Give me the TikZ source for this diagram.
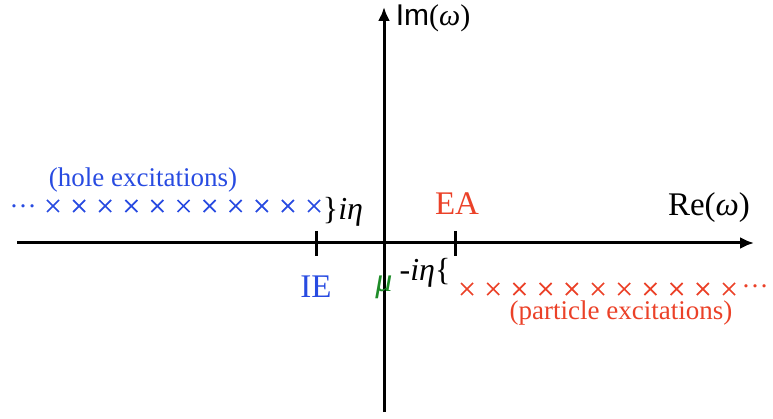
\documentclass[tikz,border=0pt]{standalone}
\usepackage{fontspec}
\setmainfont{Liberation Serif}
\newfontfamily\imsans{Liberation Sans}
\usetikzlibrary{arrows.meta,calc}
\definecolor{holeblue}{RGB}{40,75,225}
\definecolor{partred}{RGB}{235,65,40}
\definecolor{mugreen}{RGB}{30,140,40}
\tikzset{
  axis/.style={line width=3pt,-{Latex[length=14pt,width=12pt]}},
  tick/.style={line width=3pt},
  lbl/.style={inner sep=0pt,font=\fontsize{27}{30}\selectfont},
  mid/.style={inner sep=0pt,font=\fontsize{32}{34}\selectfont},
  big/.style={inner sep=0pt,font=\fontsize{33}{36}\selectfont},
  crossmark/.style={line width=1.7pt},
}
\newcommand{\xmark}[3]{%
  \coordinate (#3) at (#1,#2);
  \draw[crossmark] ($(#3)+(-6,-6)$) -- ($(#3)+(6,6)$)
                   ($(#3)+(-6,6)$) -- ($(#3)+(6,-6)$);}
\begin{document}
\begin{tikzpicture}[x=1pt,y=-1pt]
\useasboundingbox (0,0) rectangle (773,419);
% axes
\coordinate (xl) at (17,243);
\coordinate (xr) at (754,243);
\coordinate (yb) at (384,412);
\coordinate (yt) at (384,7);
\draw[axis] (xl) -- (xr);
\draw[axis] (yb) -- (yt);
% ticks
\coordinate (ie1) at (316,231);
\coordinate (ie2) at (316,256);
\coordinate (ea1) at (455,231);
\coordinate (ea2) at (455,256);
\draw[tick] (ie1) -- (ie2);
\draw[tick] (ea1) -- (ea2);
% axis labels
\node[inner sep=0pt,font=\fontsize{30}{32}\selectfont] (im) at (433,18) {{\imsans Im}(\textit{ω})};
\node[big] (re) at (709,208) {Re(\textit{ω})};
% hole side
\node[lbl,text=holeblue] (hole) at (143,180) {(hole excitations)};
\node[lbl,text=holeblue] (bdots) at (23,206) {…};
\begin{scope}[holeblue]
\foreach \k in {0,...,10} {
  \pgfmathsetmacro{\xx}{53+26.1*\k}
  \xmark{\xx}{206}{b\k}
}
\end{scope}
\node[mid] (ieta) at (343,212) {\}\textit{iη}};
\node[big,text=holeblue] (ie) at (316,287) {IE};
% particle side
\node[big,text=partred] (ea) at (457,204) {EA};
\node[inner sep=0pt,font=\fontsize{34}{36}\selectfont,text=mugreen] (mu) at (384,287) {\textit{μ}};
\node[mid] (mieta) at (425,273) {-\textit{iη}\{};
\begin{scope}[partred]
\foreach \k in {0,...,10} {
  \pgfmathsetmacro{\xx}{467+26.2*\k}
  \xmark{\xx}{289}{r\k}
}
\end{scope}
\node[lbl,text=partred] (rdots) at (755,286) {…};
\node[lbl,text=partred] (part) at (621,313) {(particle excitations)};
\end{tikzpicture}
\end{document}
